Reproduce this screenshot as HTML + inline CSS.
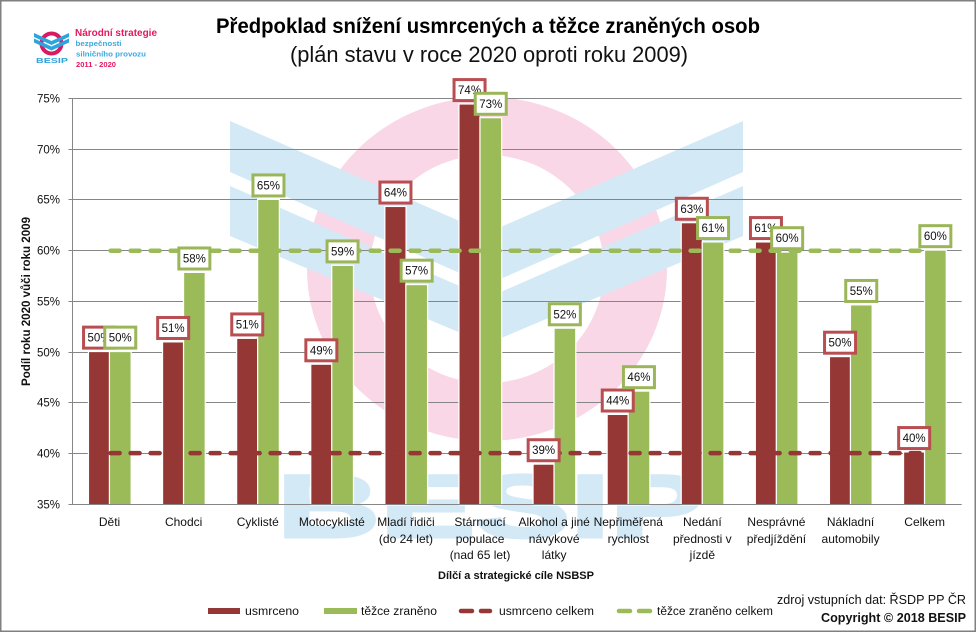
<!DOCTYPE html>
<html lang="cs">
<head>
<meta charset="utf-8">
<title>Předpoklad snížení usmrcených a těžce zraněných osob</title>
<style>
html,body{margin:0;padding:0;background:#fff;}
#chart{display:block;width:976px;height:632px;font-family:"Liberation Sans",sans-serif;}
text{font-family:"Liberation Sans",sans-serif;fill:#111;}
</style>
</head>
<body>
<svg id="chart" xmlns="http://www.w3.org/2000/svg" width="976" height="632" viewBox="0 0 976 632">
  <rect x="0" y="0" width="976" height="632" fill="#fff"/>
  <g id="watermark">
    <path fill-rule="evenodd" fill="#f9d7e6" d="M307 269a180 172 0 1 0 360 0a180 172 0 1 0 -360 0zM370 269a117 114 0 1 0 234 0a117 114 0 1 0 -234 0z"/>
    <path fill="#d3e9f6" d="M230 121L487 233L743 121V172L487 285L230 172z"/>
    <path fill="#d3e9f6" d="M230 186L487 298L743 186V236L487 344L230 236z"/>
    <text x="277" y="537" font-size="89" font-weight="700" style="fill:#d3e9f6;stroke:#d3e9f6;stroke-width:3" textLength="428" lengthAdjust="spacingAndGlyphs">BESIP</text>
  </g>
  <g id="grid"></g>
  <g id="bars"></g>
  <g id="lines"></g>
  <g id="labels"></g>
  <g id="axes"></g>

  <g>
    <circle cx="51.5" cy="43.5" r="10" fill="none" stroke="#d81b60" stroke-width="4"/>
    <path fill="#2ea3dc" d="M34 33L51.5 41L69 33V37L51.5 45L34 37z"/>
    <path fill="#2ea3dc" d="M34 38.5L51.5 46.5L69 38.5V42.5L51.5 50.5L34 42.5z"/>
    <text x="36" y="63" font-size="7" font-weight="700" style="fill:#2ea3dc" textLength="32" lengthAdjust="spacingAndGlyphs">BESIP</text>
    <text x="75" y="36" font-size="10" font-weight="700" style="fill:#e5185f" textLength="82" lengthAdjust="spacingAndGlyphs">Národní strategie</text>
    <text x="75.5" y="46" font-size="7.5" font-weight="700" style="fill:#3aa9df" textLength="46" lengthAdjust="spacingAndGlyphs">bezpečnosti</text>
    <text x="76" y="56.5" font-size="7.5" font-weight="700" style="fill:#3aa9df" textLength="70" lengthAdjust="spacingAndGlyphs">silničního provozu</text>
    <text x="76" y="67" font-size="7.5" font-weight="700" style="fill:#e5185f" textLength="40" lengthAdjust="spacingAndGlyphs">2011 - 2020</text>
  </g>

  <text x="216" y="33" font-size="21" font-weight="700" style="fill:#000" textLength="544" lengthAdjust="spacingAndGlyphs">Předpoklad snížení usmrcených a těžce zraněných osob</text>
  <text x="290" y="62" font-size="22" style="fill:#111" textLength="398" lengthAdjust="spacingAndGlyphs">(plán stavu v roce 2020 oproti roku 2009)</text>

  <text transform="translate(30 386) rotate(-90)" x="0" y="0" font-size="11.5" font-weight="700" textLength="169" lengthAdjust="spacingAndGlyphs">Podíl roku 2020 vůči roku 2009</text>
  <text x="438" y="579" font-size="11" font-weight="700" textLength="156" lengthAdjust="spacingAndGlyphs">Dílčí a strategické cíle NSBSP</text>

  <g>
    <rect x="208" y="608" width="32" height="6" fill="#953735"/>
    <text x="245" y="615" font-size="11.5" textLength="54" lengthAdjust="spacingAndGlyphs">usmrceno</text>
    <rect x="324" y="608" width="33" height="6" fill="#9bbb59"/>
    <text x="361" y="615" font-size="11.5" textLength="76" lengthAdjust="spacingAndGlyphs">těžce zraněno</text>
    <line x1="461" y1="611" x2="490" y2="611" stroke="#953735" stroke-width="4.5" stroke-linecap="round" stroke-dasharray="11 9"/>
    <text x="499" y="615" font-size="11.5" textLength="95" lengthAdjust="spacingAndGlyphs">usmrceno celkem</text>
    <line x1="619" y1="611" x2="650" y2="611" stroke="#9bbb59" stroke-width="4.5" stroke-linecap="round" stroke-dasharray="11 9"/>
    <text x="657" y="615" font-size="11.5" textLength="116" lengthAdjust="spacingAndGlyphs">těžce zraněno celkem</text>
  </g>

  <text x="777" y="604" font-size="13" textLength="189" lengthAdjust="spacingAndGlyphs">zdroj vstupních dat: ŘSDP PP ČR</text>
  <text x="821" y="622" font-size="12.5" font-weight="700" textLength="145" lengthAdjust="spacingAndGlyphs">Copyright © 2018 BESIP</text>

  <rect x="0.75" y="0.75" width="974.5" height="630.5" fill="none" stroke="#808080" stroke-width="1.5"/>
</svg>
<script>
const categories = [
  "Děti", "Chodci", "Cyklisté", "Motocyklisté", "Mladí řidiči|(do 24 let)",
  "Stárnoucí|populace|(nad 65 let)", "Alkohol a jiné|návykové|látky",
  "Nepřiměřená|rychlost", "Nedání|přednosti v|jízdě", "Nesprávné|předjíždění",
  "Nákladní|automobily", "Celkem"
];
const usmrceno = [50.0, 50.95, 51.3, 48.75, 64.3, 74.4, 38.9, 43.8, 62.7, 60.8, 49.5, 40.1];
const tezceZraneno = [50.0, 57.8, 65.0, 58.5, 56.6, 73.05, 52.3, 46.1, 60.8, 59.8, 54.6, 60.0];
const usmrcenoCelkem = [40.05, 40.05, 40.05, 40.05, 40.05, 40.05, 40.05, 40.05, 40.05, 40.05, 40.05, 40.05];
const tezceZranenoCelkem = [60, 60, 60, 60, 60, 60, 60, 60, 60, 60, 60, 60];
const yTicks = [35, 40, 45, 50, 55, 60, 65, 70, 75];

const NS = "http://www.w3.org/2000/svg";
const plotLeft = 72.5, plotRight = 961.7, plotTop = 98.5, plotBottom = 504.3;
const yMin = 35, yMax = 75;

function yScale(v) {
  return plotBottom - (v - yMin) * (plotBottom - plotTop) / (yMax - yMin);
}
function xCenter(i) {
  return plotLeft + (plotRight - plotLeft) / categories.length * (i + 0.5);
}
function mk(tag, attrs, parent) {
  const el = document.createElementNS(NS, tag);
  for (const k in attrs) el.setAttribute(k, attrs[k]);
  parent.appendChild(el);
  return el;
}
const gridG = document.getElementById("grid");
const barsG = document.getElementById("bars");
const linesG = document.getElementById("lines");
const labelsG = document.getElementById("labels");
const axesG = document.getElementById("axes");

yTicks.forEach(function (t) {
  const gy = Math.floor(yScale(t)) + 0.5;
  if (t !== yMin) {
    const g = mk("line", {x1: plotLeft, x2: plotRight, y1: gy, y2: gy, stroke: "#868686", "stroke-width": 1}, gridG);
    
    
  }
  const tick = mk("line", {x1: plotLeft - 4, x2: plotLeft, y1: gy, y2: gy, stroke: "#868686", "stroke-width": 1}, axesG);
  
  
  const lab = mk("text", {x: 60, y: gy + 4, "text-anchor": "end", "font-size": 11.5}, axesG);
  
  
  lab.textContent = t + "%";
});

const yAxis = mk("line", {x1: plotLeft, x2: plotLeft, y1: plotTop, y2: plotBottom, stroke: "#868686", "stroke-width": 1}, axesG);


const xAxis = mk("line", {x1: plotLeft, x2: plotRight, y1: 504.5, y2: 504.5, stroke: "#868686", "stroke-width": 1}, axesG);



categories.forEach(function (c, i) {
  c.split("|").forEach(function (line, j) {
    const t = mk("text", {x: xCenter(i), y: 526 + [0, 17, 33][j], "text-anchor": "middle", "font-size": 12}, axesG);
    
    
    t.textContent = line;
  });
});

function drawBars(values, fill, dx, w) {
  values.forEach(function (v, i) {
    const top = yScale(v);
    const r = mk("rect", {x: xCenter(i) + dx, y: top, width: w, height: plotBottom - top, fill: fill, stroke: "#fff", "stroke-width": 2.5, "paint-order": "stroke"}, barsG);
    
    
  });
}
drawBars(usmrceno, "#953735", -20.5, 20);
drawBars(tezceZraneno, "#9bbb59", 0.5, 20.5);

function drawLine(values, colour) {
  const d = values.map(function (v, i) {
    return (i ? "L" : "M") + xCenter(i).toFixed(1) + " " + yScale(v).toFixed(1);
  }).join("");
  const p = mk("path", {d: d, fill: "none", stroke: colour, "stroke-width": 4.5, "stroke-linecap": "round", "stroke-dasharray": "9 11", "stroke-dashoffset": -1}, linesG);
  
  
}
drawLine(tezceZranenoCelkem, "#9bbb59");
drawLine(usmrcenoCelkem, "#953735");

function drawLabels(values, border, dx) {
  values.forEach(function (v, i) {
    const cx = xCenter(i) + dx, top = yScale(v);
    const box = mk("rect", {x: cx - 15.5, y: top - 25, width: 31, height: 21, fill: "#fff", stroke: border, "stroke-width": 3}, labelsG);
    
    
    const t = mk("text", {x: cx, y: top - 10.5, "text-anchor": "middle", "font-size": 11.5}, labelsG);
    
    
    t.textContent = Math.round(v) + "%";
  });
}
drawLabels(usmrceno, "#b84e52", -10.5);
drawLabels(tezceZraneno, "#9bb658", 10.7);
</script>
</body>
</html>
